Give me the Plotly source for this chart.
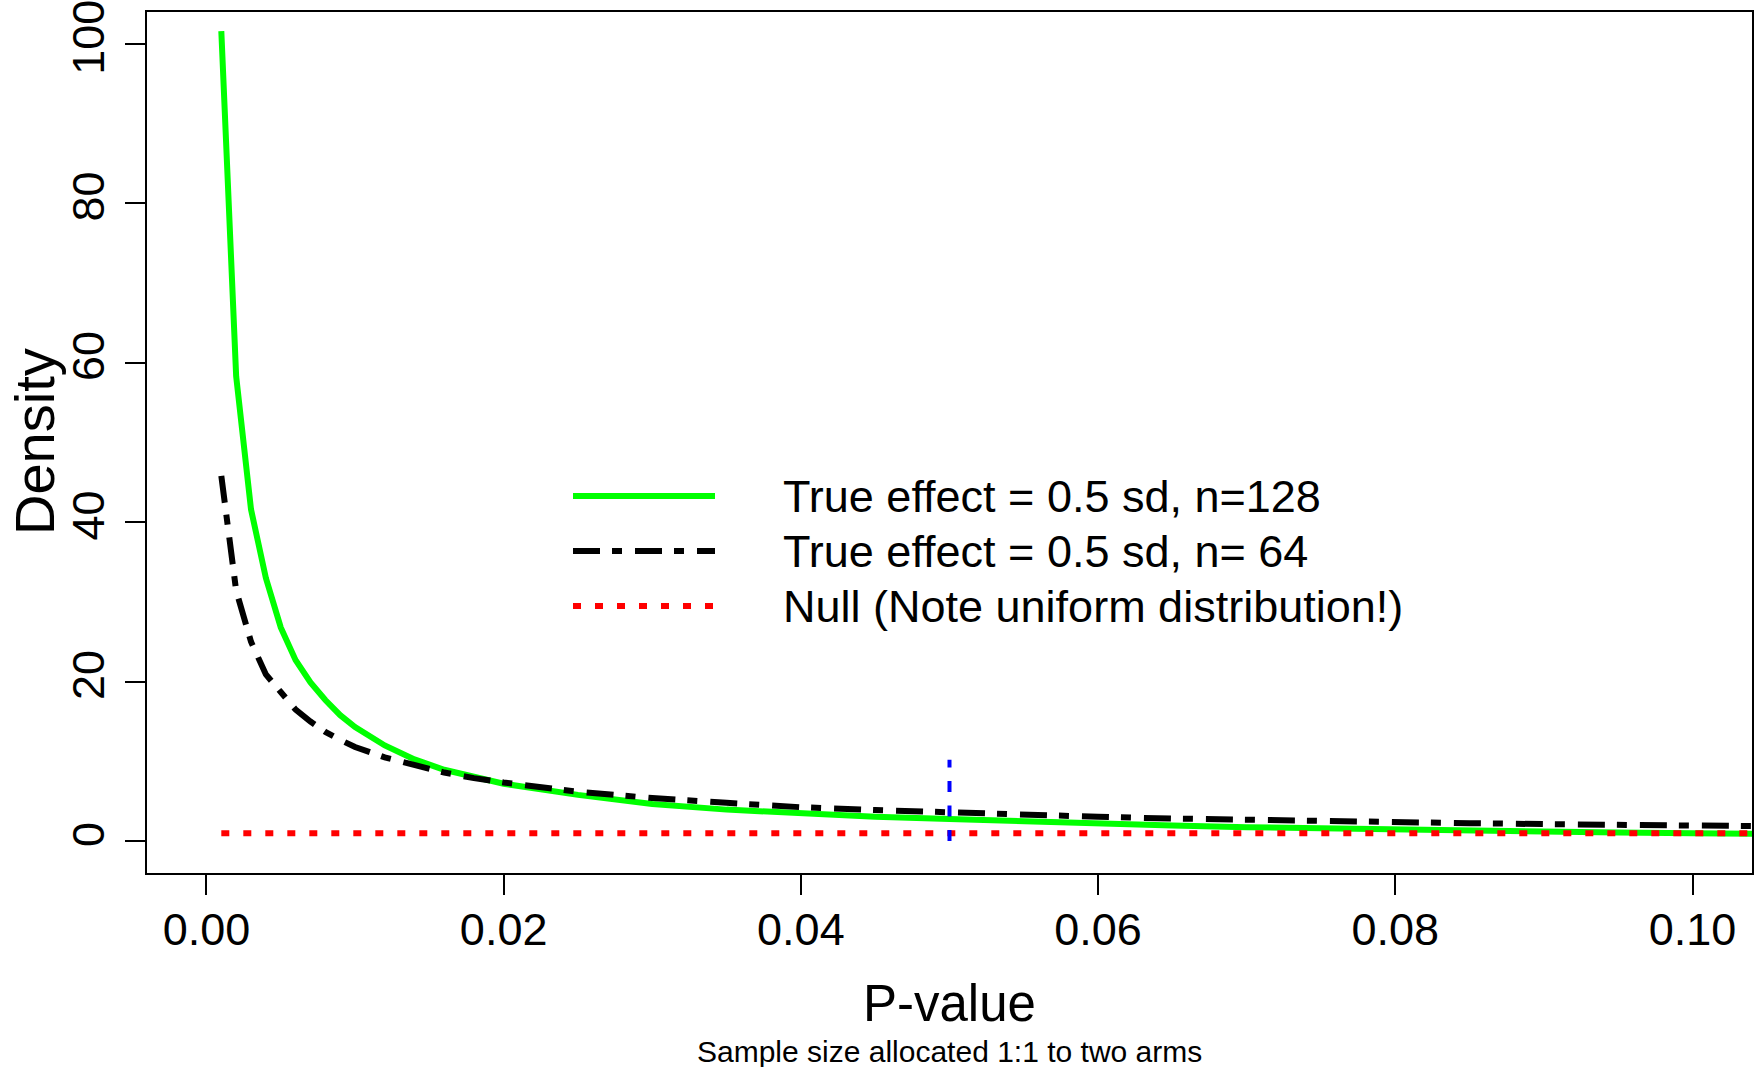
import plotly.graph_objects as go

# ---- data ----
p_vals = [0.001, 0.002, 0.003, 0.004, 0.005, 0.006, 0.007, 0.008, 0.009, 0.010,
          0.012, 0.014, 0.016, 0.018, 0.020, 0.025, 0.030, 0.035, 0.040, 0.045,
          0.050, 0.055, 0.060, 0.065, 0.070, 0.075, 0.080, 0.085, 0.090, 0.095,
          0.100, 0.105]
dens_n128 = [101.6, 58.3, 41.6, 33.0, 26.8, 22.7, 19.9, 17.7, 15.8, 14.3,
             12.0, 10.25, 8.95, 8.0, 7.2, 5.8, 4.65, 3.95, 3.42, 3.05,
             2.76, 2.45, 2.18, 1.95, 1.75, 1.58, 1.43, 1.30, 1.18, 1.07,
             0.98, 0.90]
dens_n64 = [45.8, 31.4, 25.0, 20.9, 18.7, 16.5, 15.0, 13.7, 12.7, 11.8,
            10.5, 9.5, 8.6, 7.9, 7.35, 6.2, 5.4, 4.8, 4.25, 3.9,
            3.56, 3.28, 3.05, 2.83, 2.65, 2.5, 2.37, 2.25, 2.13, 2.03,
            1.95, 1.87]
null_p = [0.001, 0.105]
null_dens = [1.0, 1.0]
alpha_p = [0.05, 0.05]
alpha_dens = [0.0, 10.2]

x_ticks = [0.00, 0.02, 0.04, 0.06, 0.08, 0.10]
x_ticktext = ["0.00", "0.02", "0.04", "0.06", "0.08", "0.10"]
y_ticks = [0, 20, 40, 60, 80, 100]
y_ticktext = ["0", "20", "40", "60", "80", "100"]

legend_labels = ["True effect = 0.5 sd, n=128",
                 "True effect = 0.5 sd, n= 64",
                 "Null (Note uniform distribution!)"]

# ---- styles ----
FONT = "Liberation Sans, Arial, Helvetica, sans-serif"
W, H = 1762, 1067
ML, MR, MT, MB = 147, 10, 12, 194
PW, PH = W - ML - MR, H - MT - MB

green_line = dict(color="#00FF00", width=6)
black_line = dict(color="black", width=6, dash="27px,12px,10px,13px")
red_line = dict(color="#FF0000", width=6, dash="8px,14px")
blue_line = dict(color="#0000FF", width=4, dash="11px,13.5px")

fig = go.Figure()
fig.add_trace(go.Scatter(x=p_vals, y=dens_n128, mode="lines", line=green_line,
                         showlegend=False))
fig.add_trace(go.Scatter(x=p_vals, y=dens_n64, mode="lines", line=black_line,
                         showlegend=False))
fig.add_trace(go.Scatter(x=null_p, y=null_dens, mode="lines", line=red_line,
                         showlegend=False))
fig.add_trace(go.Scatter(x=alpha_p, y=alpha_dens, mode="lines", line=blue_line,
                         showlegend=False))


def px_x(px):
    return (px - ML) / PW


def px_y(py):
    return (H - MB - py) / PH


# manual legend (no box), like base-R legend()
leg_rows = [496, 551, 606]
leg_styles = [green_line, black_line, red_line]
for row, style, label in zip(leg_rows, leg_styles, legend_labels):
    fig.add_shape(type="line", xref="paper", yref="paper",
                  x0=px_x(573), x1=px_x(715), y0=px_y(row), y1=px_y(row),
                  line=style)
    fig.add_annotation(xref="paper", yref="paper", x=px_x(781), y=px_y(row),
                       text=label, showarrow=False, xanchor="left",
                       yanchor="middle",
                       font=dict(family=FONT, size=45, color="black"))

# axis titles and subtitle
fig.add_annotation(xref="paper", yref="paper", x=0.5, y=px_y(1003),
                   text="P-value", showarrow=False, xanchor="center",
                   yanchor="middle", font=dict(family=FONT, size=51, color="black"))
fig.add_annotation(xref="paper", yref="paper", x=0.5, y=px_y(1051),
                   text="Sample size allocated 1:1 to two arms", showarrow=False,
                   xanchor="center", yanchor="middle",
                   font=dict(family=FONT, size=30, color="black"))
fig.add_annotation(xref="paper", yref="paper", x=px_x(34), y=px_y(442),
                   text="Density", showarrow=False, textangle=-90,
                   xanchor="center", yanchor="middle",
                   font=dict(family=FONT, size=56, color="black"))

axis_common = dict(showgrid=False, zeroline=False, showline=True, mirror=True,
                   linecolor="black", linewidth=2, ticks="outside", ticklen=20,
                   tickwidth=2, tickcolor="black", ticklabeloverflow="allow",
                   automargin=False,
                   tickfont=dict(family=FONT, size=45, color="black"))

fig.update_layout(
    width=W, height=H,
    margin=dict(l=ML, r=MR, t=MT, b=MB, autoexpand=False),
    paper_bgcolor="white", plot_bgcolor="white",
    showlegend=False,
    xaxis=dict(range=[-0.004, 0.104], tickvals=x_ticks, ticktext=x_ticktext,
               ticklabelstandoff=-4, **axis_common),
    yaxis=dict(range=[-4.0, 104.0], tickvals=y_ticks, ticktext=y_ticktext,
               tickangle=-90, ticklabelstandoff=3, **axis_common),
)

fig.write_html("out.html")
